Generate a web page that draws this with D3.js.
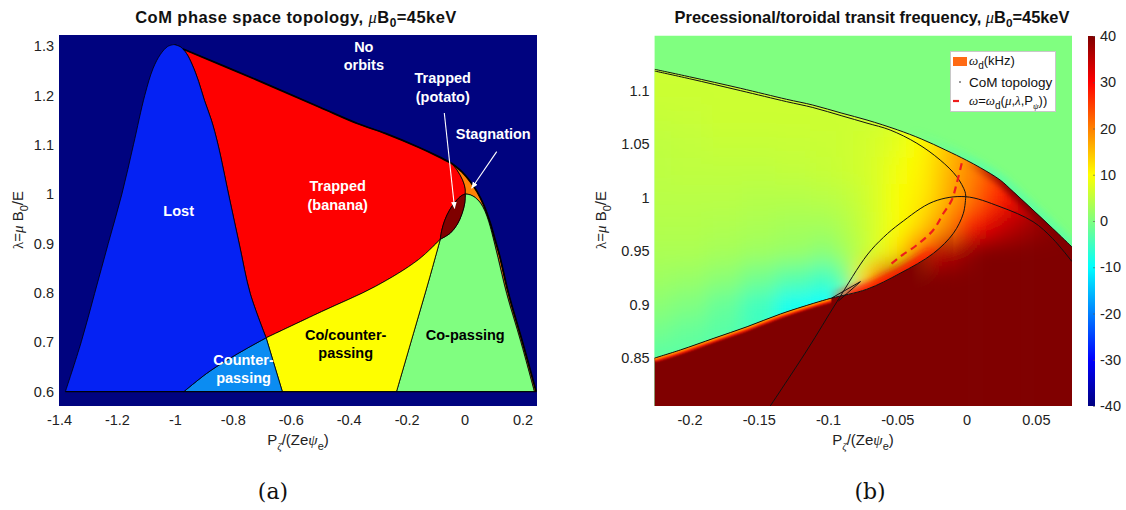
<!DOCTYPE html>
<html>
<head>
<meta charset="utf-8">
<script src="https://cdn.jsdelivr.net/npm/d3@7"></script>
<style>
  body { margin: 0; background: #fff; }
  svg { display: block; }
</style>
</head>
<body>
<svg id="fig" width="1126" height="510"></svg>
<script>
// ---------------- Panel (a): constants-of-motion topology regions -------------
// Boundaries as [P_zeta/(Ze psi_e), lambda] pairs
const lostLeftEdge = [[-1.378,0.6],[-1.323,0.701],[-1.277,0.799],[-1.23,0.9],[-1.183,1.0],[-1.143,1.1],[-1.104,1.2],[-1.075,1.255],[-1.05,1.283],[-1.025,1.299],[-1.003,1.303]];
const lostRightEdge = [[-1.003,1.303],[-0.98,1.298],[-0.96,1.285],[-0.94,1.262],[-0.918,1.228],[-0.898,1.19],[-0.874,1.15],[-0.851,1.1],[-0.814,0.998],[-0.777,0.897],[-0.74,0.799],[-0.685,0.709]];
const counterPassingEdge = [[-0.685,0.709],[-0.75,0.688],[-0.82,0.664],[-0.89,0.637],[-0.969,0.6]];
const counterCoEdge = [[-0.685,0.709],[-0.629,0.6]];
const bananaTop = [[-0.972,1.294],[-0.7,1.227],[-0.5,1.176],[-0.37,1.143],[-0.274,1.123],[-0.159,1.095],[-0.09,1.076],[-0.044,1.062]];
const stagnationOuter = [[-0.044,1.062],[-0.009,1.045],[0.02,1.025],[0.043,1.005],[0.066,0.978],[0.089,0.941],[0.104,0.91],[0.121,0.875],[0.151,0.8],[0.2,0.7],[0.247,0.6]];
const bananaStagnationEdge = [[-0.044,1.062],[-0.026,1.049],[-0.007,1.029],[0.002,1.012],[0.0024,1.0003]];
const coPassingRight = [[0.0024,1.0003],[0.02,0.9985],[0.037,0.993],[0.055,0.982],[0.07,0.966],[0.083,0.945],[0.094,0.922],[0.115,0.872],[0.145,0.799],[0.194,0.701],[0.241,0.6]];
const coPassingLeft = [[-0.235,0.6],[-0.173,0.725],[-0.123,0.826],[-0.0839,0.9086]];
const potatoUpper = [[-0.0839,0.9086],[-0.079,0.926],[-0.0685,0.947],[-0.0515,0.968],[-0.0305,0.9855],[-0.0115,0.9965],[0.0024,1.0003]];
const potatoLower = [[-0.0839,0.9086],[-0.0494,0.921],[-0.0255,0.9385],[-0.0085,0.961],[0.0008,0.9825],[0.0024,1.0003]];
const bananaPassingEdge = [[-0.685,0.709],[-0.494,0.762],[-0.308,0.813],[-0.16,0.867],[-0.0839,0.9086]];

const xTicksA = [-1.4,-1.2,-1,-0.8,-0.6,-0.4,-0.2,0,0.2];
const yTicksA = [0.6,0.7,0.8,0.9,1,1.1,1.2,1.3];

const regionLabels = [
  {lines:["No","orbits"], at:[-0.3478,1.2699], color:"#fff"},
  {lines:["Trapped","(potato)"], at:[-0.0753,1.2059], color:"#fff"},
  {lines:["Stagnation"], at:[0.0991,1.1111], color:"#fff"},
  {lines:["Trapped","(banana)"], at:[-0.438,0.9875], color:"#fff"},
  {lines:["Lost"], at:[-0.9869,0.9558], color:"#fff"},
  {lines:["Counter-","passing"], at:[-0.763,0.6355], color:"#fff"},
  {lines:["Co/counter-","passing"], at:[-0.4104,0.6861], color:"#000"},
  {lines:["Co-passing"], at:[0.0024,0.7047], color:"#000"}
];
const labelArrows = [
  {from:[-0.070,1.1643], to:[-0.0345,0.9714]},
  {from:[0.1109,1.086], to:[0.0245,1.0119]}
];

// ---------------- Panel (b): precessional frequency map ---------------------
const noOrbitBoundary = [[-0.2252,1.120],[-0.2,1.113],[-0.163,1.1022],[-0.13,1.092],[-0.111,1.0866],[-0.09,1.079],[-0.0719,1.0726],[-0.05,1.0635],[-0.0328,1.055],[-0.015,1.0445],[0,1.035],[0.01,1.028],[0.0242,1.0166],[0.0338,1.0055],[0.048,0.9885],[0.062,0.9715],[0.0761,0.954]];
const trappedUpper = [[-0.2252,1.1184],[-0.2,1.1112],[-0.163,1.1],[-0.13,1.0898],[-0.111,1.0843],[-0.09,1.0765],[-0.0719,1.0697],[-0.0552,1.0633],[-0.0359,1.0509],[-0.0191,1.0353],[-0.0071,1.0197],[-0.0011,1.0056],[-0.0006,1.001]];
const trappedLower = [[-0.0006,1.001],[-0.0023,0.9855],[-0.0095,0.9668],[-0.024,0.948],[-0.048,0.9294],[-0.072,0.9145],[-0.0975,0.9062],[-0.1103,0.9014],[-0.1343,0.8914],[-0.1584,0.8795],[-0.1824,0.8687],[-0.2065,0.8578],[-0.2257,0.85]];
const cuspHook = [[-0.0975,0.9062],[-0.0766,0.9216],[-0.0925,0.9035]];
const coPassingArch = [[-0.1445,0.80],[-0.1151,0.8577],[-0.0935,0.903],[-0.0718,0.9465],[-0.06,0.963],[-0.048,0.976],[-0.024,0.9963],[-0.001,1.001],[0.0242,0.9916],[0.048,0.9776],[0.062,0.962],[0.0761,0.9403]];
const resonanceLine = [[-0.0035,1.0322],[-0.0071,1.0135],[-0.0107,0.9979],[-0.0167,0.9855],[-0.024,0.9699],[-0.0359,0.9558],[-0.048,0.9449],[-0.055,0.9375]];

// omega_d (kHz) sampled on a P x lambda grid (rows: lambda from top to bottom)
const gridP = [-0.225,-0.2,-0.175,-0.15,-0.125,-0.1,-0.0875,-0.075,-0.0625,-0.05,-0.0375,-0.025,-0.0125,0,0.0125,0.025,0.0375,0.05,0.0625,0.075];
const gridLambda = [1.15,1.125,1.1,1.075,1.05,1.025,1.0,0.975,0.95,0.925,0.9,0.875,0.85,0.825,0.8];
const omegaGrid = [
  [6,6,6,6,6,6,6,6,6.5,7,8,10,14,18,21,24,28,32,36,40],
  [6,6,6,6,6,6,6,6,6.5,7,8,10,14,18,21,24,28,32,36,40],
  [6,6,6,6,6,6,6,6,6.5,7,8,10,14,18,21,24,28,32,36,40],
  [5.5,5.7,6,6,6,6,6,6,6.5,7,8.5,10.5,14,18,21,24,28,32,36,40],
  [5,5.2,5.5,5.5,5.7,5.8,6,6.5,7,8,9.5,12,15,18,21,24,28,32,36,40],
  [4.8,5,5,5,5.2,5.5,6,6.5,7.5,9,10.5,12.5,16,19,22,26,30,34,37,40],
  [4.5,4.5,4.5,4.2,4.2,4.5,5,6,7.5,9.5,11,13,17,20,24,28,32,36,38,40],
  [4,4,3.8,3.5,3,3,4,5.5,7.5,9.5,12,16,20,27,31,34,36,38,39,40],
  [3.5,3.5,3,2.5,2,1,3,5,8,12,20,30,36,38,40,40,40,40,40,40],
  [2.5,2,1,-1,-3,-5,-1,12,25,38,40,40,40,40,40,40,40,40,40,40],
  [1,0,-2,-5,-9,-10,-8,30,40,40,40,40,40,40,40,40,40,40,40,40],
  [-1,-2,-3,-5,-9,-10,-9,30,40,40,40,40,40,40,40,40,40,40,40,40],
  [-3,-3,-4,-5,-9,-10,-9,30,40,40,40,40,40,40,40,40,40,40,40,40],
  [-3,-3,-4,-5,-9,-10,-9,30,40,40,40,40,40,40,40,40,40,40,40,40],
  [-3,-3,-4,-5,-9,-10,-9,30,40,40,40,40,40,40,40,40,40,40,40,40]
];
const passingOmega = 40;   // saturated value below the trapped/passing boundary
const outsideOmega = 0;    // no orbits
const xTicksB = [-0.2,-0.15,-0.1,-0.05,0,0.05];
const yTicksB = [0.85,0.9,0.95,1,1.05,1.1];
const colorbarTicks = [-40,-30,-20,-10,0,10,20,30,40];

// ---------------------------------------------------------------------------
const SANS = '"Liberation Sans", Arial, Helvetica, sans-serif';
const SERIF = '"Liberation Serif", "DejaVu Serif", serif';
const svg = d3.select("#fig").attr("font-family", SANS);
const defs = svg.append("defs");

// MATLAB-style jet colormap over [-40, 40]
function jet(v) {
  const t = Math.max(0, Math.min(1, (v + 40) / 80));
  const c = u => Math.max(0, Math.min(1, u));
  return d3.rgb(255 * c(1.5 - Math.abs(4 * t - 3)), 255 * c(1.5 - Math.abs(4 * t - 2)), 255 * c(1.5 - Math.abs(4 * t - 1))).formatHex();
}

// Join several boundary pieces into a single path (smooth or straight pieces)
function piecePath(pieces, xs, ys, closed = true) {
  const p = d3.path();
  let started = false;
  const ctx = {
    moveTo(x, y) { if (!started) { p.moveTo(x, y); started = true; } else p.lineTo(x, y); },
    lineTo(x, y) { p.lineTo(x, y); },
    bezierCurveTo(a, b, c, d, e, f) { p.bezierCurveTo(a, b, c, d, e, f); },
    closePath() {}
  };
  const smooth = d3.line().x(d => xs(d[0])).y(d => ys(d[1])).curve(d3.curveCatmullRom.alpha(0.5)).context(ctx);
  const straight = d3.line().x(d => xs(d[0])).y(d => ys(d[1])).context(ctx);
  for (const pc of pieces) {
    if (Array.isArray(pc)) smooth(pc); else straight(pc.pts);
  }
  if (closed) p.closePath();
  return p.toString();
}
const rev = a => a.slice().reverse();
const fmtTick = d => String(+d.toFixed(3));

// ============================ Panel (a) =====================================
const xA = d3.scaleLinear([-1.4, 0.25], [59, 537]);
const yA = d3.scaleLinear([0.5709, 1.3223], [406, 35]);

defs.append("clipPath").attr("id", "clipA").append("rect")
  .attr("x", 59).attr("y", 35).attr("width", 478).attr("height", 371);

const gA = svg.append("g");
const plotA = gA.append("g").attr("clip-path", "url(#clipA)");
plotA.append("rect").attr("x", 59).attr("y", 35).attr("width", 478).attr("height", 371).attr("fill", "#00037f");

const regions = [
  {name:"banana", fill:"#fe0000", pieces:[bananaTop, bananaStagnationEdge, rev(potatoUpper), rev(bananaPassingEdge), rev(lostRightEdge)]},
  {name:"stagnation", fill:"#ff8205", pieces:[stagnationOuter, rev(coPassingRight), rev(bananaStagnationEdge)]},
  {name:"copassing", fill:"#80fe80", pieces:[coPassingLeft, potatoLower, coPassingRight]},
  {name:"potato", fill:"#7f0000", pieces:[potatoUpper, rev(potatoLower)]},
  {name:"cocounter", fill:"#fefe00", pieces:[{pts:counterCoEdge}, coPassingLeft, rev(bananaPassingEdge)]},
  {name:"counter", fill:"#0b8cf2", pieces:[counterPassingEdge, {pts:rev(counterCoEdge)}]},
  {name:"lost", fill:"#0522f3", pieces:[lostLeftEdge, lostRightEdge, counterPassingEdge]}
];
plotA.selectAll("path.region").data(regions).join("path")
  .attr("class", "region")
  .attr("d", r => piecePath(r.pieces, xA, yA))
  .attr("fill", r => r.fill)
  .attr("stroke", "#000").attr("stroke-width", 0.8).attr("stroke-linejoin", "round");

// outer (no-orbit) boundary and the lambda floor
plotA.append("path").attr("d", piecePath([bananaTop, stagnationOuter], xA, yA, false))
  .attr("fill", "none").attr("stroke", "#000").attr("stroke-width", 1.8);
plotA.append("path").attr("d", piecePath([{pts:[lostLeftEdge[0], stagnationOuter[stagnationOuter.length - 1]]}], xA, yA, false))
  .attr("fill", "none").attr("stroke", "#000").attr("stroke-width", 1);

// labels
const lineH = 18.4;
regionLabels.forEach(l => {
  const t = plotA.append("text")
    .attr("x", xA(l.at[0])).attr("y", yA(l.at[1]) - (l.lines.length - 1) * lineH / 2)
    .attr("text-anchor", "middle").attr("dy", "0.36em")
    .attr("font-size", 14.5).attr("font-weight", "bold").attr("fill", l.color);
  l.lines.forEach((s, i) => t.append("tspan").attr("x", xA(l.at[0])).attr("dy", i ? lineH : 0).text(s));
});
defs.append("marker").attr("id", "whiteHead").attr("viewBox", "0 0 10 10")
  .attr("refX", 9).attr("refY", 5).attr("markerWidth", 7).attr("markerHeight", 7)
  .attr("orient", "auto").attr("markerUnits", "userSpaceOnUse")
  .append("path").attr("d", "M0,1 L10,5 L0,9 Z").attr("fill", "#fff");
plotA.selectAll("line.arrow").data(labelArrows).join("line")
  .attr("class", "arrow")
  .attr("x1", d => xA(d.from[0])).attr("y1", d => yA(d.from[1]))
  .attr("x2", d => xA(d.to[0])).attr("y2", d => yA(d.to[1]))
  .attr("stroke", "#fff").attr("stroke-width", 1.1).attr("marker-end", "url(#whiteHead)");

// axes
function styleAxis(g) {
  g.attr("font-size", 14.5).attr("font-family", SANS);
  g.select(".domain").remove();
  g.selectAll(".tick text").attr("fill", "#222");
}
gA.append("g").attr("transform", "translate(0,406)")
  .call(d3.axisBottom(xA).tickValues(xTicksA).tickSize(0).tickPadding(9).tickFormat(fmtTick)).call(styleAxis);
gA.append("g").attr("transform", "translate(59,0)")
  .call(d3.axisLeft(yA).tickValues(yTicksA).tickSize(0).tickPadding(5).tickFormat(fmtTick)).call(styleAxis);

// titles and axis labels
function titleText(g, x, main, size, spacing) {
  const t = g.append("text").attr("x", x).attr("y", 23).attr("text-anchor", "middle")
    .attr("font-size", size).attr("letter-spacing", spacing).attr("font-weight", "bold").attr("fill", "#111");
  t.append("tspan").text(main);
  t.append("tspan").attr("font-family", SERIF).attr("font-style", "italic").attr("font-weight", "normal").text("\u03BC");
  t.append("tspan").text("B");
  t.append("tspan").attr("font-size", size * 0.72).attr("dy", 4).text("0");
  t.append("tspan").attr("dy", -4).text("=45keV");
}
function xLabel(g, x) {
  const t = g.append("text").attr("x", x).attr("y", 445).attr("text-anchor", "middle")
    .attr("font-size", 15).attr("fill", "#222");
  t.append("tspan").text("P");
  t.append("tspan").attr("font-size", 11).attr("dy", 5).attr("font-family", SERIF).attr("font-style", "italic").text("\u03B6");
  t.append("tspan").attr("dy", -5).text("/(Ze");
  t.append("tspan").attr("font-family", SERIF).attr("font-style", "italic").text("\u03C8");
  t.append("tspan").attr("font-size", 11).attr("dy", 5).text("e");
  t.append("tspan").attr("dy", -5).text(")");
}
function yLabel(g, x, yc) {
  const t = g.append("text").attr("transform", `translate(${x},${yc}) rotate(-90)`).attr("text-anchor", "middle")
    .attr("font-size", 15).attr("fill", "#222");
  t.append("tspan").attr("font-family", SERIF).text("\u03BB");
  t.append("tspan").text("=");
  t.append("tspan").attr("font-family", SERIF).attr("font-style", "italic").text("\u03BC");
  t.append("tspan").text(" B");
  t.append("tspan").attr("font-size", 11).attr("dy", 5).text("0");
  t.append("tspan").attr("dy", -5).text("/E");
}
function panelTag(g, x, s) {
  g.append("text").attr("x", x).attr("y", 499).attr("text-anchor", "middle")
    .attr("font-family", '"DejaVu Serif", "Liberation Serif", serif').attr("font-size", 22).attr("fill", "#111").text(s);
}
titleText(gA, 296, "CoM phase space topology, ", 16.5, 0.45);
xLabel(gA, 298);
yLabel(gA, 23, 220);
panelTag(gA, 273, "(a)");

// ============================ Panel (b) =====================================
const xB = d3.scaleLinear([-0.2252, 0.0761], [654.6, 1072]);
const yB = d3.scaleLinear([0.8054, 1.1514], [406, 35.7]);
const [bx0, bx1] = xB.range(), [by0, by1] = [yB(1.1514), yB(0.8054)];

defs.append("clipPath").attr("id", "clipB").append("rect")
  .attr("x", bx0).attr("y", by0).attr("width", bx1 - bx0).attr("height", by1 - by0);

// region masks built from the topology curves
const farL = -0.26, farR = 0.11, farT = 1.2, farB = 0.77;
defs.append("clipPath").attr("id", "insideOuter").append("path")
  .attr("d", piecePath([noOrbitBoundary, {pts:[[farR, noOrbitBoundary[noOrbitBoundary.length - 1][1]], [farR, farB], [farL, farB], [farL, noOrbitBoundary[0][1]]]}], xB, yB));
defs.append("clipPath").attr("id", "outsideOuter").append("path")
  .attr("d", piecePath([noOrbitBoundary, {pts:[[farR, noOrbitBoundary[noOrbitBoundary.length - 1][1]], [farR, farT], [farL, farT], [farL, noOrbitBoundary[0][1]]]}], xB, yB));
const lowerLeft = trappedLower.filter(d => d[0] <= -0.09);
defs.append("clipPath").attr("id", "passingLeft").append("path")
  .attr("d", piecePath([lowerLeft, {pts:[[farL, lowerLeft[lowerLeft.length - 1][1]], [farL, farB], [lowerLeft[0][0], farB]]}], xB, yB));
defs.append("clipPath").attr("id", "aboveLower").append("path")
  .attr("d", piecePath([trappedLower, {pts:[[farL, 0.85], [farL, farT], [0.0, farT]]}], xB, yB));

// passing region below the lower trapped boundary, fading out toward the nose
const lowerAll = trappedLower.filter(d => d[1] <= 0.97);
const passFade = defs.append("linearGradient").attr("id", "passFade").attr("gradientUnits", "userSpaceOnUse")
  .attr("x1", xB(-0.04)).attr("x2", xB(-0.006)).attr("y1", 0).attr("y2", 0);
passFade.append("stop").attr("offset", 0).attr("stop-color", "#fff").attr("stop-opacity", 1);
passFade.append("stop").attr("offset", 1).attr("stop-color", "#fff").attr("stop-opacity", 0);
defs.append("mask").attr("id", "passingMask").attr("maskUnits", "userSpaceOnUse")
  .attr("x", 560).attr("y", 0).attr("width", 566).attr("height", 510)
  .append("path")
  .attr("d", piecePath([lowerAll, {pts:[[farL, lowerAll[lowerAll.length - 1][1]], [farL, farB], [lowerAll[0][0], farB]]}], xB, yB))
  .attr("fill", "url(#passFade)");

const blur = (id, sx, sy) => defs.append("filter").attr("id", id)
  .attr("filterUnits", "userSpaceOnUse").attr("x", 560).attr("y", -60).attr("width", 600).attr("height", 560)
  .append("feGaussianBlur").attr("stdDeviation", `${sx} ${sy}`);
blur("fieldBlur", 9, 11);
blur("softBlur", 3, 3);
blur("fineBlur", 1.2, 1.2);

const gB = svg.append("g");
const plotB = gB.append("g").attr("clip-path", "url(#clipB)");
plotB.append("rect").attr("x", bx0 - 2).attr("y", by0 - 2).attr("width", bx1 - bx0 + 4).attr("height", by1 - by0 + 4)
  .attr("fill", jet(outsideOmega));

// faint negative halo just outside the outer boundary
const haloGrad = defs.append("linearGradient").attr("id", "haloFade").attr("gradientUnits", "userSpaceOnUse")
  .attr("x1", xB(-0.04)).attr("x2", xB(0.01)).attr("y1", 0).attr("y2", 0);
haloGrad.append("stop").attr("offset", 0).attr("stop-color", jet(-5)).attr("stop-opacity", 0);
haloGrad.append("stop").attr("offset", 1).attr("stop-color", jet(-5)).attr("stop-opacity", 0.5);
plotB.append("g").attr("clip-path", "url(#outsideOuter)").append("path")
  .attr("d", piecePath([noOrbitBoundary.filter(d => d[0] >= -0.05)], xB, yB, false))
  .attr("fill", "none").attr("stroke", "url(#haloFade)").attr("stroke-width", 12).attr("filter", "url(#softBlur)");

// omega_d field inside the outer boundary
const colEdges = gridP.map((p, j) => [
  j === 0 ? bx0 - 60 : (xB(gridP[j - 1]) + xB(p)) / 2,
  j === gridP.length - 1 ? bx1 + 60 : (xB(p) + xB(gridP[j + 1])) / 2]);
const rowEdges = gridLambda.map((l, i) => [
  i === 0 ? by0 - 60 : (yB(gridLambda[i - 1]) + yB(l)) / 2,
  i === gridLambda.length - 1 ? by1 + 60 : (yB(l) + yB(gridLambda[i + 1])) / 2]);
const cells = [];
omegaGrid.forEach((row, i) => row.forEach((v, j) => cells.push({i, j, v})));
plotB.append("g").attr("clip-path", "url(#insideOuter)")
  .append("g").attr("filter", "url(#fieldBlur)")
  .selectAll("rect").data(cells).join("rect")
  .attr("x", d => colEdges[d.j][0]).attr("y", d => rowEdges[d.i][0])
  .attr("width", d => colEdges[d.j][1] - colEdges[d.j][0] + 0.5)
  .attr("height", d => rowEdges[d.i][1] - rowEdges[d.i][0] + 0.5)
  .attr("fill", d => jet(d.v));

// dark band just inside the outer boundary at large P
const darkGrad = defs.append("linearGradient").attr("id", "darkFade").attr("gradientUnits", "userSpaceOnUse")
  .attr("x1", xB(0.0)).attr("x2", xB(0.03)).attr("y1", 0).attr("y2", 0);
darkGrad.append("stop").attr("offset", 0).attr("stop-color", jet(passingOmega)).attr("stop-opacity", 0);
darkGrad.append("stop").attr("offset", 1).attr("stop-color", jet(passingOmega)).attr("stop-opacity", 1);
plotB.append("g").attr("clip-path", "url(#insideOuter)").append("path")
  .attr("d", piecePath([noOrbitBoundary.filter(d => d[0] >= -0.01)], xB, yB, false))
  .attr("fill", "none").attr("stroke", "url(#darkFade)").attr("stroke-width", 9).attr("filter", "url(#softBlur)");

// saturated passing region with a sharp edge on the trapped/passing boundary
plotB.append("rect").attr("x", bx0 - 5).attr("y", by0).attr("width", bx1 - bx0 + 10).attr("height", by1 - by0 + 5)
  .attr("fill", jet(passingOmega)).attr("mask", "url(#passingMask)");
const gPass = plotB.append("g").attr("clip-path", "url(#passingLeft)");
const lowerEdgePath = piecePath([lowerLeft], xB, yB, false);
gPass.append("path").attr("d", lowerEdgePath).attr("fill", "none").attr("stroke", jet(28)).attr("stroke-width", 8).attr("filter", "url(#fineBlur)");
gPass.append("path").attr("d", lowerEdgePath).attr("fill", "none").attr("stroke", jet(16)).attr("stroke-width", 3.5).attr("filter", "url(#fineBlur)");

// steep rise of omega_d just above the boundary near the cusp
const bandGrad = defs.append("linearGradient").attr("id", "bandFade").attr("gradientUnits", "userSpaceOnUse")
  .attr("x1", xB(-0.1)).attr("x2", xB(-0.012)).attr("y1", 0).attr("y2", 0);
[[0, 0], [0.2, 0.9], [0.75, 0.9], [1, 0]].forEach(([o, a]) =>
  bandGrad.append("stop").attr("offset", o).attr("stop-color", jet(28)).attr("stop-opacity", a));
plotB.append("g").attr("clip-path", "url(#aboveLower)").append("path")
  .attr("d", piecePath([trappedLower.filter(d => d[0] <= -0.012 && d[0] >= -0.11)], xB, yB, false))
  .attr("fill", "none").attr("stroke", "url(#bandFade)").attr("stroke-width", 12).attr("filter", "url(#softBlur)");

// topology curves
const curveStyle = sel => sel.attr("fill", "none").attr("stroke", "#111").attr("stroke-width", 1).attr("stroke-linejoin", "round");
plotB.append("path").attr("d", piecePath([noOrbitBoundary], xB, yB, false)).call(curveStyle);
plotB.append("path").attr("d", piecePath([trappedUpper, trappedLower], xB, yB, false)).call(curveStyle);
plotB.append("path").attr("d", piecePath([coPassingArch], xB, yB, false)).call(curveStyle);
plotB.append("path").attr("d", piecePath([{pts:cuspHook}], xB, yB, false)).call(curveStyle);
plotB.append("path").attr("d", piecePath([resonanceLine], xB, yB, false))
  .attr("fill", "none").attr("stroke", "#ee1c1c").attr("stroke-width", 2.2).attr("stroke-dasharray", "7,5");

// axes
gB.append("g").attr("transform", `translate(0,406)`)
  .call(d3.axisBottom(xB).tickValues(xTicksB).tickSize(0).tickPadding(9).tickFormat(fmtTick)).call(styleAxis);
gB.append("g").attr("transform", `translate(${bx0},0)`)
  .call(d3.axisLeft(yB).tickValues(yTicksB).tickSize(0).tickPadding(5).tickFormat(fmtTick)).call(styleAxis);

titleText(gB, 872, "Precessional/toroidal transit frequency, ", 16.4, 0);
xLabel(gB, 863);
yLabel(gB, 606, 220);
panelTag(gB, 870, "(b)");

// legend
const lg = gB.append("g");
lg.append("rect").attr("x", 950.5).attr("y", 51.5).attr("width", 105).attr("height", 60)
  .attr("fill", "#fff").attr("stroke", "#c8c8c8").attr("stroke-width", 1);
lg.append("rect").attr("x", 953).attr("y", 57).attr("width", 14).attr("height", 9).attr("fill", "#ff6a14");
const lt1 = lg.append("text").attr("x", 969).attr("y", 65).attr("font-size", 13).attr("fill", "#111");
lt1.append("tspan").attr("font-family", SERIF).attr("font-style", "italic").text("\u03C9");
lt1.append("tspan").attr("font-size", 10).attr("dy", 4).text("d");
lt1.append("tspan").attr("dy", -4).text("(kHz)");
lg.append("circle").attr("cx", 960).attr("cy", 82).attr("r", 0.8).attr("fill", "#111");
lg.append("text").attr("x", 969).attr("y", 87).attr("font-size", 13.5).attr("fill", "#111").text("CoM topology");
lg.append("line").attr("x1", 953).attr("x2", 959).attr("y1", 101).attr("y2", 101).attr("stroke", "#ee1c1c").attr("stroke-width", 2.2);
const lt3 = lg.append("text").attr("x", 969).attr("y", 105).attr("font-size", 13).attr("fill", "#111");
lt3.append("tspan").attr("font-family", SERIF).attr("font-style", "italic").text("\u03C9");
lt3.append("tspan").text("=");
lt3.append("tspan").attr("font-family", SERIF).attr("font-style", "italic").text("\u03C9");
lt3.append("tspan").attr("font-size", 10).attr("dy", 4).text("d");
lt3.append("tspan").attr("dy", -4).text("(");
lt3.append("tspan").attr("font-family", SERIF).attr("font-style", "italic").text("\u03BC");
lt3.append("tspan").text(",");
lt3.append("tspan").attr("font-family", SERIF).attr("font-style", "italic").text("\u03BB");
lt3.append("tspan").text(",P");
lt3.append("tspan").attr("font-size", 9).attr("dy", 4).attr("font-family", SERIF).attr("font-style", "italic").text("\u03C8");
lt3.append("tspan").attr("dy", -4).text("))");

// colorbar
const cbScale = d3.scaleLinear([-40, 40], [406, 36]);
const cbGrad = defs.append("linearGradient").attr("id", "jetBar").attr("x1", 0).attr("x2", 0).attr("y1", 1).attr("y2", 0);
d3.range(0, 81, 2).forEach(v => cbGrad.append("stop").attr("offset", v / 80).attr("stop-color", jet(v - 40)));
gB.append("rect").attr("x", 1088).attr("y", 36).attr("width", 7).attr("height", 370).attr("fill", "url(#jetBar)");
gB.append("g").attr("transform", "translate(1095,0)")
  .call(d3.axisRight(cbScale).tickValues(colorbarTicks).tickSize(-2).tickPadding(5).tickFormat(d => String(d)))
  .call(g => {
    g.attr("font-size", 14.5).attr("font-family", SANS);
    g.select(".domain").remove();
    g.selectAll(".tick line").attr("stroke", "#555").attr("stroke-width", 0.6);
    g.selectAll(".tick text").attr("fill", "#222");
  });
</script>
</body>
</html>
